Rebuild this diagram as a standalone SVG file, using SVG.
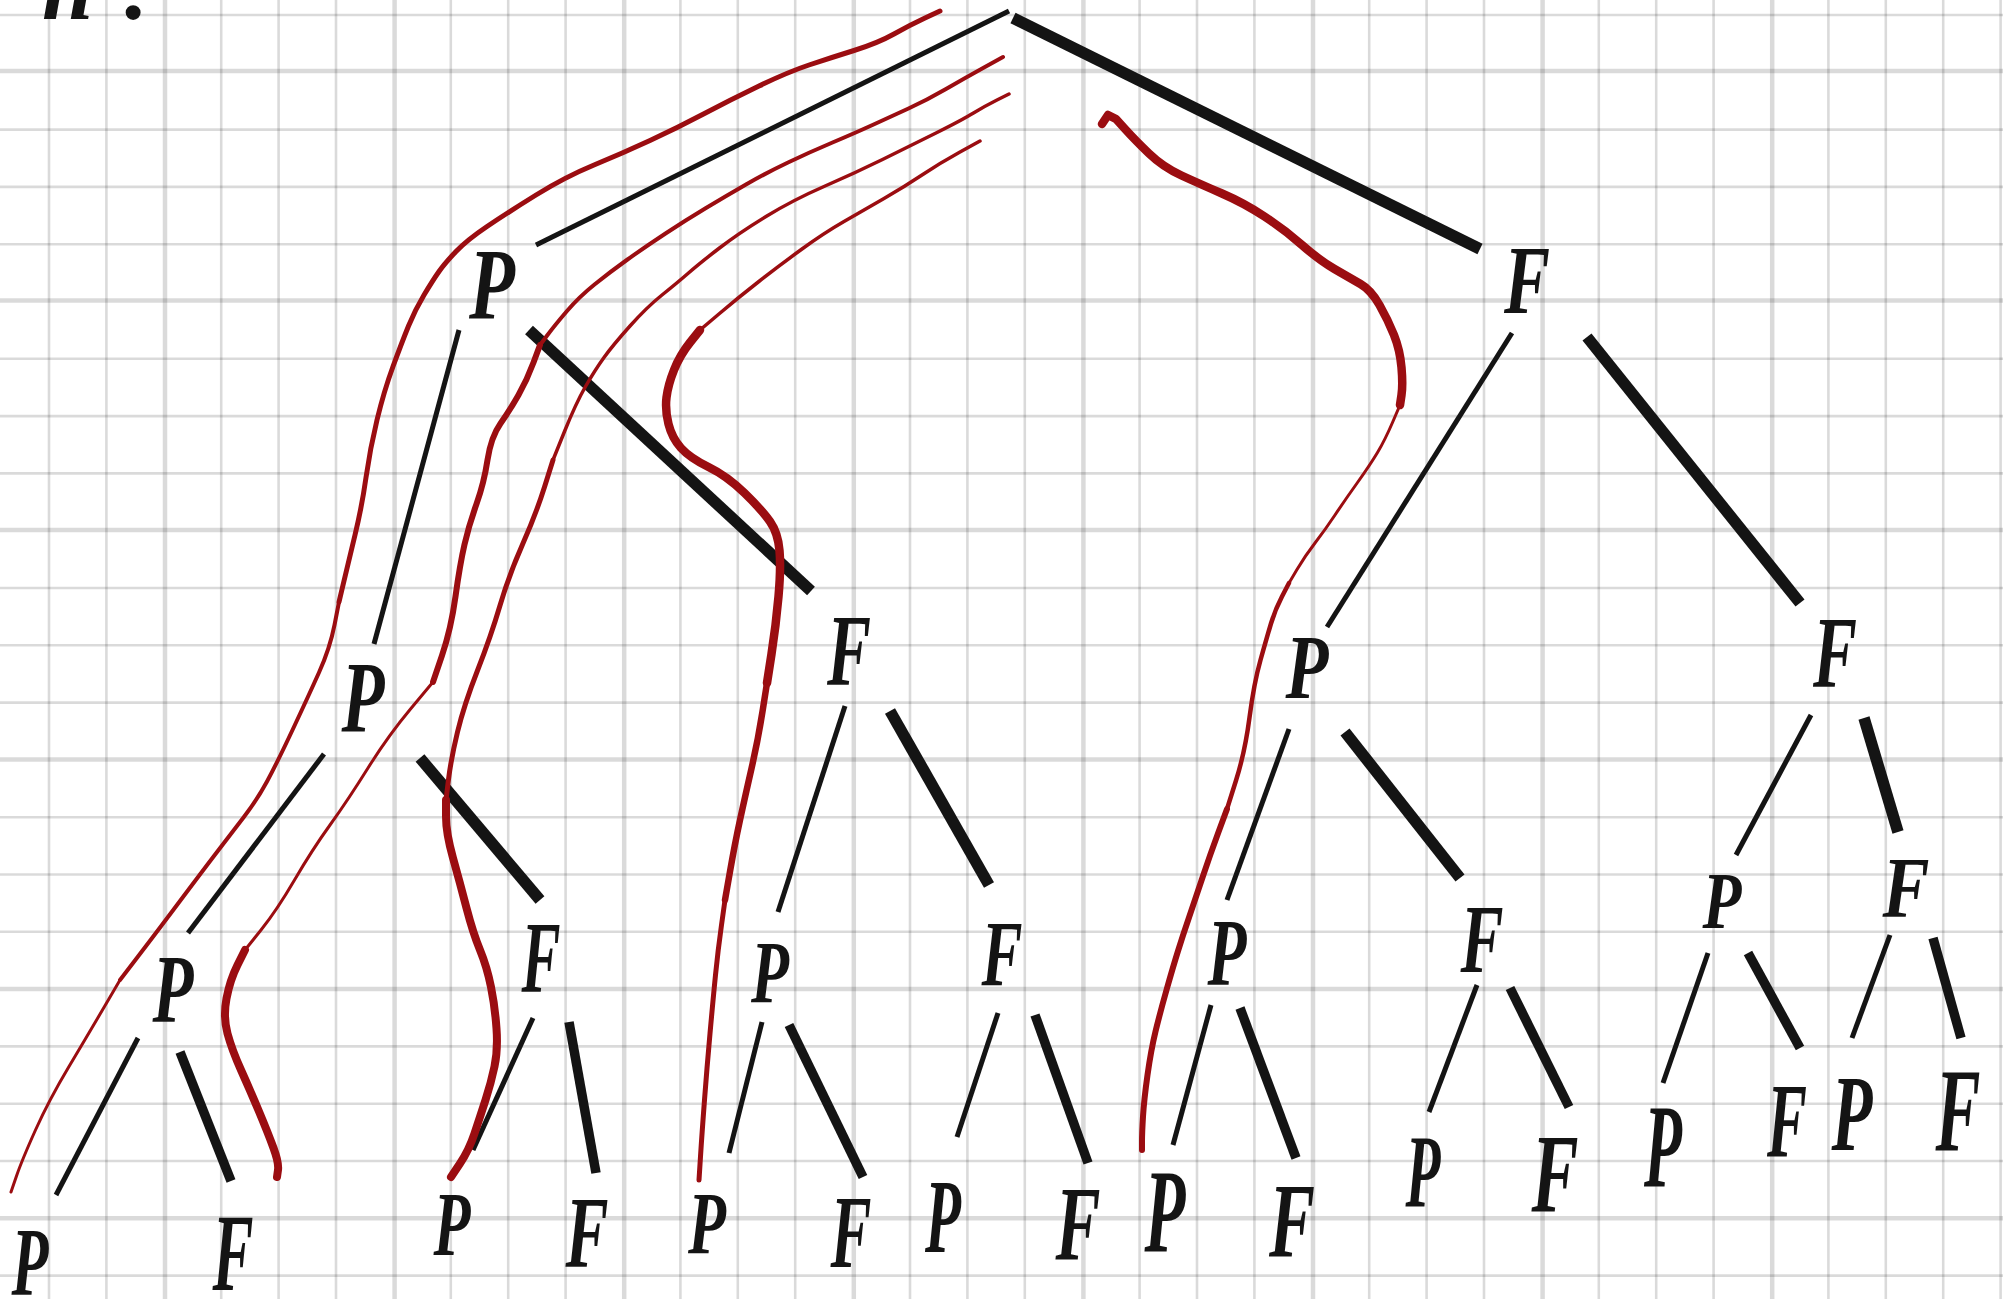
<svg xmlns="http://www.w3.org/2000/svg" width="2003" height="1299" viewBox="0 0 2003 1299">
  <style>
    .grid-minor { stroke: #000; stroke-opacity: 0.145; stroke-width: 2.6; fill: none; }
    .grid-major { stroke: #000; stroke-opacity: 0.145; stroke-width: 4.5; fill: none; }
    .lbl { font-family: "Liberation Serif", "DejaVu Serif", serif; font-weight: bold; font-style: italic; fill: #141414; text-anchor: middle; }
    .thin { stroke: #141414; stroke-width: 5; stroke-linecap: butt; fill: none; }
    .thick { stroke: #141414; stroke-width: 11.5; stroke-linecap: butt; fill: none; }
    .thick3 { stroke: #141414; stroke-width: 9.5; stroke-linecap: butt; fill: none; }
    .trace { stroke: #9b0d11; fill: none; stroke-linecap: round; stroke-linejoin: round; }
  </style>

  <rect width="2003" height="1299" fill="#ffffff"/>

  <!-- squared paper: minor lines every 57.4 px, heavier line every 4th -->
  <g id="grid">
    <path class="grid-minor" d="M49,0V1299 M106.4,0V1299 M221.2,0V1299 M278.6,0V1299 M336,0V1299 M450.8,0V1299 M508.2,0V1299 M565.6,0V1299 M680.4,0V1299 M737.8,0V1299 M795.2,0V1299 M910,0V1299 M967.4,0V1299 M1024.8,0V1299 M1139.6,0V1299 M1197,0V1299 M1254.4,0V1299 M1369.2,0V1299 M1426.6,0V1299 M1484,0V1299 M1598.8,0V1299 M1656.2,0V1299 M1713.6,0V1299 M1828.4,0V1299 M1885.8,0V1299 M1943.2,0V1299 M2000.6,0V1299"/>
    <path class="grid-major" d="M165,0V1299 M394.6,0V1299 M624.2,0V1299 M853.8,0V1299 M1083.4,0V1299 M1313,0V1299 M1542.6,0V1299 M1772.2,0V1299"/>
    <path class="grid-minor" d="M0,15H2003 M0,129.6H2003 M0,186.9H2003 M0,244.2H2003 M0,358.8H2003 M0,416.1H2003 M0,473.4H2003 M0,588H2003 M0,645.3H2003 M0,702.6H2003 M0,817.2H2003 M0,874.5H2003 M0,931.8H2003 M0,1046.4H2003 M0,1103.7H2003 M0,1161H2003 M0,1275.6H2003"/>
    <path class="grid-major" d="M0,71H2003 M0,300.5H2003 M0,530H2003 M0,759.5H2003 M0,989H2003 M0,1218.3H2003"/>
  </g>

  <!-- heading, mostly above the sheet edge -->
  <text id="heading" x="42" y="19" font-family="Liberation Serif, DejaVu Serif, serif" font-weight="bold" font-style="italic" font-size="92" fill="#141414" textLength="106" lengthAdjust="spacing">n.</text>

  <!-- tree branches -->
  <g id="connectors">
    <line class="thin" x1="1009" y1="11" x2="536" y2="245"/>
    <line class="thick" x1="1013" y1="18" x2="1480" y2="249"/>

    <line class="thin" x1="459" y1="330" x2="374" y2="644"/>
    <line class="thick" x1="529" y1="330" x2="811" y2="591"/>
    <line class="thin" x1="1512" y1="333" x2="1327" y2="627"/>
    <line class="thick" x1="1587" y1="337" x2="1800" y2="603"/>

    <line class="thin" x1="324" y1="754" x2="188" y2="933"/>
    <line class="thick" x1="420" y1="758" x2="540" y2="900"/>
    <line class="thin" x1="845" y1="706" x2="778" y2="912"/>
    <line class="thick" x1="890" y1="711" x2="989" y2="885"/>
    <line class="thin" x1="1289" y1="729" x2="1227" y2="900"/>
    <line class="thick" x1="1345" y1="732" x2="1460" y2="878"/>
    <line class="thin" x1="1811" y1="715" x2="1736" y2="855"/>
    <line class="thick" x1="1864" y1="718" x2="1898" y2="832"/>

    <line class="thin" x1="138" y1="1038" x2="56" y2="1195"/>
    <line class="thick3" x1="180" y1="1052" x2="231" y2="1181"/>
    <line class="thin" x1="533" y1="1018" x2="473" y2="1150"/>
    <line class="thick3" x1="569" y1="1022" x2="596" y2="1173"/>
    <line class="thin" x1="762" y1="1022" x2="729" y2="1153"/>
    <line class="thick3" x1="789" y1="1025" x2="863" y2="1177"/>
    <line class="thin" x1="998" y1="1013" x2="957" y2="1137"/>
    <line class="thick3" x1="1035" y1="1015" x2="1088" y2="1163"/>
    <line class="thin" x1="1211" y1="1005" x2="1173" y2="1145"/>
    <line class="thick3" x1="1240" y1="1008" x2="1296" y2="1158"/>
    <line class="thin" x1="1477" y1="985" x2="1429" y2="1112"/>
    <line class="thick3" x1="1510" y1="988" x2="1569" y2="1107"/>
    <line class="thin" x1="1708" y1="953" x2="1663" y2="1083"/>
    <line class="thick3" x1="1748" y1="953" x2="1800" y2="1048"/>
    <line class="thin" x1="1890" y1="935" x2="1852" y2="1038"/>
    <line class="thick3" x1="1933" y1="938" x2="1961" y2="1038"/>
  </g>

  <!-- nodes -->
  <g id="p1"><text class="lbl" x="492" y="319" font-size="101" textLength="46" lengthAdjust="spacingAndGlyphs">P</text></g>
  <g id="f1"><text class="lbl" x="1527" y="313" font-size="98" textLength="46" lengthAdjust="spacingAndGlyphs">F</text></g>

  <g id="p2a"><text class="lbl" x="363" y="732" font-size="101" textLength="43" lengthAdjust="spacingAndGlyphs">P</text></g>
  <g id="f2a"><text class="lbl" x="849" y="685" font-size="101" textLength="44" lengthAdjust="spacingAndGlyphs">F</text></g>
  <g id="p2b"><text class="lbl" x="1307" y="698" font-size="91" textLength="43" lengthAdjust="spacingAndGlyphs">P</text></g>
  <g id="f2b"><text class="lbl" x="1835" y="687" font-size="101" textLength="44" lengthAdjust="spacingAndGlyphs">F</text></g>

  <g id="p3a"><text class="lbl" x="173" y="1022" font-size="98" textLength="41" lengthAdjust="spacingAndGlyphs">P</text></g>
  <g id="f3a"><text class="lbl" x="541" y="992" font-size="101" textLength="39" lengthAdjust="spacingAndGlyphs">F</text></g>
  <g id="p3b"><text class="lbl" x="770" y="1002" font-size="89" textLength="38" lengthAdjust="spacingAndGlyphs">P</text></g>
  <g id="f3b"><text class="lbl" x="1002" y="985" font-size="94" textLength="41" lengthAdjust="spacingAndGlyphs">F</text></g>
  <g id="p3c"><text class="lbl" x="1227" y="985" font-size="95" textLength="39" lengthAdjust="spacingAndGlyphs">P</text></g>
  <g id="f3c"><text class="lbl" x="1482" y="972" font-size="98" textLength="43" lengthAdjust="spacingAndGlyphs">F</text></g>
  <g id="p3d"><text class="lbl" x="1722" y="928" font-size="80" textLength="39" lengthAdjust="spacingAndGlyphs">P</text></g>
  <g id="f3d"><text class="lbl" x="1906" y="917" font-size="86" textLength="47" lengthAdjust="spacingAndGlyphs">F</text></g>

  <g id="p4a"><text class="lbl" x="30" y="1295" font-size="98" textLength="37" lengthAdjust="spacingAndGlyphs">P</text></g>
  <g id="f4a"><text class="lbl" x="233" y="1290" font-size="110" textLength="41" lengthAdjust="spacingAndGlyphs">F</text></g>
  <g id="p4b"><text class="lbl" x="452" y="1255" font-size="91" textLength="37" lengthAdjust="spacingAndGlyphs">P</text></g>
  <g id="f4b"><text class="lbl" x="587" y="1267" font-size="101" textLength="43" lengthAdjust="spacingAndGlyphs">F</text></g>
  <g id="p4c"><text class="lbl" x="707" y="1253" font-size="88" textLength="38" lengthAdjust="spacingAndGlyphs">P</text></g>
  <g id="f4c"><text class="lbl" x="851" y="1267" font-size="104" textLength="41" lengthAdjust="spacingAndGlyphs">F</text></g>
  <g id="p4d"><text class="lbl" x="943" y="1252" font-size="106" textLength="36" lengthAdjust="spacingAndGlyphs">P</text></g>
  <g id="f4d"><text class="lbl" x="1078" y="1260" font-size="106" textLength="45" lengthAdjust="spacingAndGlyphs">F</text></g>
  <g id="p4e"><text class="lbl" x="1165" y="1252" font-size="119" textLength="41" lengthAdjust="spacingAndGlyphs">P</text></g>
  <g id="f4e"><text class="lbl" x="1292" y="1257" font-size="106" textLength="46" lengthAdjust="spacingAndGlyphs">F</text></g>
  <g id="p4f"><text class="lbl" x="1423" y="1207" font-size="104" textLength="35" lengthAdjust="spacingAndGlyphs">P</text></g>
  <g id="f4f"><text class="lbl" x="1555" y="1212" font-size="113" textLength="47" lengthAdjust="spacingAndGlyphs">F</text></g>
  <g id="p4g"><text class="lbl" x="1663" y="1187" font-size="119" textLength="38" lengthAdjust="spacingAndGlyphs">P</text></g>
  <g id="f4g"><text class="lbl" x="1787" y="1157" font-size="106" textLength="40" lengthAdjust="spacingAndGlyphs">F</text></g>
  <g id="p4h"><text class="lbl" x="1852" y="1150" font-size="109" textLength="41" lengthAdjust="spacingAndGlyphs">P</text></g>
  <g id="f4h"><text class="lbl" x="1958" y="1150" font-size="118" textLength="45" lengthAdjust="spacingAndGlyphs">F</text></g>

  <!-- red hand-drawn routes through the tree (quadratic B-spline through the sketch points) -->
  <g id="routes">
    <path class="trace" stroke-width="5" d="M940,11 L925,18 Q910,25 894,34 Q878,43 854,50.5 Q830,58 809,65 Q788,72 759,86 Q730,100 703.5,114 Q677,128 650,140.5 Q623,153 594,165 Q565,177 536,195 Q507,213 487,226.5 Q467,240 456,251.5 Q445,263 439,271.5 Q433,280 424,295 Q415,310 408.5,326 Q402,342 393,366.5 Q384,391 377,420 Q370,449 366,477.5 Q362,506 355,535 Q348,564 343.5,583 L339,602"/>
    <path class="trace" stroke-width="4" d="M339,602 L334.5,625 Q330,648 319,672.5 Q308,697 292.5,730 Q277,763 267,781.5 Q257,800 243.5,817.5 Q230,835 215.5,854 Q201,873 178.5,903 Q156,933 138,956.5 L120,980"/>
    <path class="trace" stroke-width="3" d="M120,980 L104.5,1006.5 Q89,1033 69,1066.5 Q49,1100 35.5,1130 Q22,1160 16.5,1176 L11,1192"/>

    <path class="trace" stroke-width="4" d="M1003,57 L984,67.5 Q965,78 946,89 Q927,100 908.5,108.5 Q890,117 872.5,125 Q855,133 832.5,142.5 Q810,152 788,162.5 Q766,173 746,184.5 Q726,196 706,208 Q686,220 665.5,233.5 Q645,247 627.5,259.5 Q610,272 594.5,284.5 Q579,297 567,311 Q555,325 547.5,335 L540,345"/>
    <path class="trace" stroke-width="6" d="M540,345 L533.5,362.5 Q527,380 518.5,395 Q510,410 500.5,423.5 Q491,437 487.5,460 Q484,483 476.5,504 Q469,525 464.5,544.5 Q460,564 455.5,596.5 Q451,629 442,655.5 L433,682"/>
    <path class="trace" stroke-width="3" d="M433,682 L410.5,709 Q388,736 368,768 Q348,800 330,825 Q312,850 294.5,880 Q277,910 261,930 L245,950"/>
    <path class="trace" stroke-width="8" d="M245,950 L237.5,965 Q230,980 226.5,998.5 Q223,1017 227.5,1033.5 Q232,1050 241,1070 Q250,1090 259,1111.5 Q268,1133 273.5,1148 Q279,1163 278,1170 L277,1177"/>

    <path class="trace" stroke-width="3.5" d="M1009,94 L997,100 Q985,106 973.5,113 Q962,120 936,133 Q910,146 882.5,159.5 Q855,173 824,186.5 Q793,200 766,216.5 Q739,233 719.5,248 Q700,263 688.5,273 Q677,283 662,295 Q647,307 630,326 Q613,345 604,357.5 Q595,370 585.5,386.5 Q576,403 564.5,431.5 L553,460"/>
    <path class="trace" stroke-width="5" d="M553,460 L544.5,487 Q536,514 522.5,544.5 Q509,575 500,605.5 Q491,636 477.5,670.5 Q464,705 457.5,732 Q451,759 448.5,779.5 L446,800"/>
    <path class="trace" stroke-width="8" d="M446,800 L446,816.5 Q446,833 453,858 Q460,883 466.5,908 Q473,933 480,950 Q487,967 491,987 Q495,1007 496.5,1028.5 Q498,1050 494.5,1066.5 Q491,1083 485.5,1100 Q480,1117 474.5,1133.5 Q469,1150 460,1163.5 L451,1177"/>

    <path class="trace" stroke-width="3.5" d="M980,141 L960,152 Q940,163 922,175 Q904,187 884,198.5 Q864,210 844,221.5 Q824,233 802,249 Q780,265 759.5,281 Q739,297 719.5,313.5 L700,330"/>
    <path class="trace" stroke-width="8.5" d="M700,330 L690,342.5 Q680,355 674,370 Q668,385 666.5,397.5 Q665,410 668.5,424 Q672,438 681,448 Q690,458 708.5,467 Q727,476 744.5,493 Q762,510 770,521.5 Q778,533 779.5,550.5 Q781,568 778.5,596.5 Q776,625 771.5,654 L767,683"/>
    <path class="trace" stroke-width="6.5" d="M767,683 L762.5,711.5 Q758,740 751.5,768.5 Q745,797 740,820 Q735,843 730,871.5 L725,900"/>
    <path class="trace" stroke-width="5" d="M725,900 L721.5,925 Q718,950 715.5,975 Q713,1000 710,1033.5 Q707,1067 704.5,1100 Q702,1133 700.5,1156.5 L699,1180"/>

    <path class="trace" stroke-width="8.5" d="M1102,124 L1108,115 L1116,119 L1125.5,129.5 Q1135,140 1149,153.5 Q1163,167 1181.5,175.5 Q1200,184 1222,193.5 Q1244,203 1264.5,216.5 Q1285,230 1302,245 Q1319,260 1334.5,269 Q1350,278 1360.5,284 Q1371,290 1379.5,305 Q1388,320 1394,335 Q1400,350 1401.5,367.5 Q1403,385 1401.5,395 L1400,405"/>
    <path class="trace" stroke-width="3" d="M1400,405 L1392.5,422.5 Q1385,440 1377.5,452.5 Q1370,465 1357.5,482.5 Q1345,500 1335,515 Q1325,530 1315,543 Q1305,556 1297,569.5 L1289,583"/>
    <path class="trace" stroke-width="4.5" d="M1289,583 L1282,596.5 Q1275,610 1271,623.5 Q1267,637 1260.5,660 Q1254,683 1249.5,717.5 Q1245,752 1236,780.5 L1227,809"/>
    <path class="trace" stroke-width="6" d="M1227,809 L1218.5,832 Q1210,855 1202.5,877.5 Q1195,900 1189,917.5 Q1183,935 1178,951 Q1173,967 1166.5,990 Q1160,1013 1155.5,1031.5 Q1151,1050 1147.5,1075 Q1144,1100 1143,1116.5 Q1142,1133 1142,1141.5 L1142,1150"/>
  </g>
</svg>
